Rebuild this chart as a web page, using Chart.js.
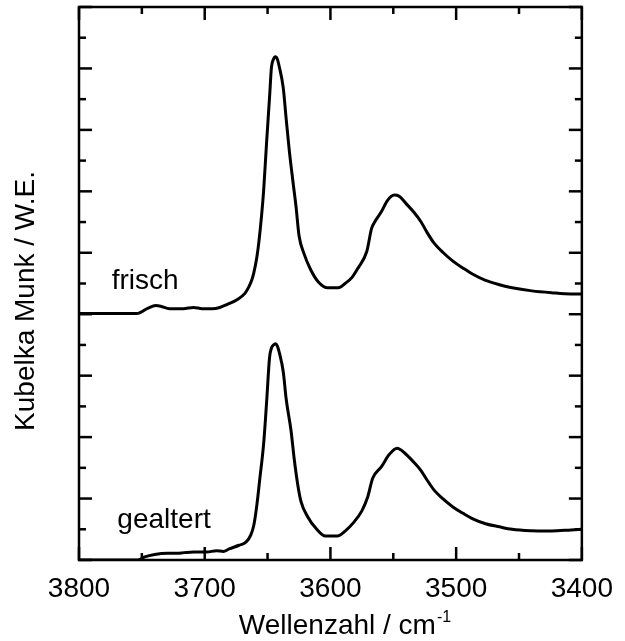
<!DOCTYPE html>
<html>
<head>
<meta charset="utf-8">
<script src="https://cdn.jsdelivr.net/npm/chart.js@4.4.1/dist/chart.umd.min.js"></script>
<style>
  html, body { margin: 0; padding: 0; background: #fff; }
  canvas { display: block; }
</style>
</head>
<body>
<canvas id="chart" width="625" height="641"></canvas>
<script>
// Wavenumber ticks (cm^-1), axis runs from high to low
const xTickValues = [3800, 3700, 3600, 3500, 3400];

// Kubelka-Munk spectrum of the fresh sample (offset upward by 4 units)
const frischWavenumber = [3800, 3754, 3745, 3739, 3735, 3728, 3717, 3709, 3702, 3694, 3688, 3682, 3674, 3668, 3665, 3662.5, 3661, 3658.6, 3657, 3654.7, 3653.1, 3650.8, 3648.4, 3646.9, 3645.3, 3643.8, 3642.2, 3640.6, 3637.5, 3635.2, 3632.8, 3629.7, 3627.3, 3625, 3621.1, 3615.6, 3609.4, 3602.3, 3593.8, 3588.3, 3582.8, 3578.1, 3571.1, 3567.2, 3564.8, 3559.4, 3554.7, 3549.2, 3545.3, 3539.8, 3533.6, 3528.1, 3523.4, 3518, 3510.2, 3502.3, 3494.5, 3486.7, 3476.6, 3465.6, 3455.5, 3439.8, 3424.2, 3408.6, 3400];
const frischKM = [4.01, 4.01, 4.10, 4.14, 4.13, 4.09, 4.09, 4.11, 4.09, 4.09, 4.11, 4.16, 4.24, 4.34, 4.44, 4.56, 4.67, 4.92, 5.16, 5.62, 6.02, 6.79, 7.54, 8.02, 8.15, 8.19, 8.15, 8.02, 7.68, 7.18, 6.68, 6.14, 5.74, 5.28, 4.99, 4.72, 4.52, 4.43, 4.43, 4.50, 4.60, 4.75, 5.02, 5.40, 5.50, 5.67, 5.85, 5.94, 5.92, 5.80, 5.66, 5.51, 5.34, 5.17, 5.00, 4.86, 4.75, 4.65, 4.55, 4.48, 4.43, 4.38, 4.35, 4.33, 4.33];

// Kubelka-Munk spectrum of the aged sample
const gealtertWavenumber = [3800, 3753, 3747.7, 3739.8, 3729.7, 3721.9, 3716.4, 3708.6, 3698.4, 3690.6, 3685.2, 3680.5, 3672.7, 3667.2, 3663.3, 3660.9, 3658.6, 3656.3, 3653.1, 3650.8, 3648.4, 3646.9, 3645.3, 3643.8, 3642.2, 3640.6, 3637.5, 3635.2, 3631.3, 3628.9, 3625.8, 3623.4, 3618, 3611.7, 3603.9, 3594.5, 3588.3, 3582, 3575, 3570.3, 3566.4, 3559.4, 3553.1, 3546.9, 3541.4, 3533.6, 3528.1, 3523.4, 3518, 3510.2, 3502.3, 3494.5, 3486.7, 3476.6, 3465.6, 3455.5, 3439.8, 3430, 3424.2, 3408.6, 3400];
const gealtertKM = [0.00, 0.00, 0.05, 0.09, 0.11, 0.11, 0.12, 0.13, 0.13, 0.15, 0.14, 0.18, 0.24, 0.29, 0.41, 0.57, 0.88, 1.30, 1.90, 2.56, 3.30, 3.45, 3.50, 3.52, 3.48, 3.37, 3.06, 2.62, 2.10, 1.66, 1.20, 0.95, 0.70, 0.52, 0.39, 0.39, 0.47, 0.60, 0.80, 1.03, 1.33, 1.52, 1.72, 1.82, 1.75, 1.59, 1.46, 1.31, 1.15, 0.99, 0.86, 0.76, 0.67, 0.59, 0.54, 0.50, 0.475, 0.47, 0.472, 0.49, 0.50];

// Curve labels and where their text starts (wavenumber, baseline value)
const curveLabels = ['frisch', 'gealtert'];
const curveLabelAnchors = [[3774, 4.41], [3769.5, 0.52]];

const FONT = "'Liberation Sans', Arial, Helvetica, sans-serif";

function toPoints(xs, ys) {
  return xs.map((w, i) => ({ x: w, y: ys[i] }));
}

// Frame, inward major/minor ticks on all four sides, axis titles and curve labels
const frameAndText = {
  id: 'frameAndText',
  afterDraw(chart) {
    const { ctx, chartArea: a, scales: { x, y } } = chart;
    ctx.save();
    ctx.strokeStyle = '#000';
    ctx.lineWidth = 2.5;
    ctx.lineCap = 'butt';
    const seg = (x1, y1, x2, y2) => { ctx.beginPath(); ctx.moveTo(x1, y1); ctx.lineTo(x2, y2); ctx.stroke(); };

    // x ticks: majors at the labelled values, minors halfway between
    const xMajorStep = xTickValues[0] - xTickValues[1];
    for (let v = x.min; v <= x.max; v += xMajorStep / 2) {
      const px = x.getPixelForValue(v);
      const major = xTickValues.includes(v);
      const len = major ? 13 : 7;
      seg(px, a.bottom, px, a.bottom - len);
      seg(px, a.top, px, a.top + len);
    }
    // y ticks: majors every unit, minors every half unit
    for (let k = 0; k <= (y.max - y.min) * 2; k++) {
      const v = y.min + k / 2;
      const py = y.getPixelForValue(v);
      const len = k % 2 === 0 ? 13 : 7;
      seg(a.left, py, a.left + len, py);
      seg(a.right, py, a.right - len, py);
    }
    ctx.strokeRect(a.left, a.top, a.right - a.left, a.bottom - a.top);

    ctx.fillStyle = '#000';
    // curve labels
    ctx.font = '28px ' + FONT;
    ctx.textAlign = 'left';
    ctx.textBaseline = 'alphabetic';
    curveLabels.forEach((t, i) => {
      const [w, v] = curveLabelAnchors[i];
      ctx.fillText(t, x.getPixelForValue(w), y.getPixelForValue(v));
    });

    // x axis title with superscript unit exponent
    const main = 'Wellenzahl / cm';
    const sup = '-1';
    ctx.font = '28px ' + FONT;
    const mw = ctx.measureText(main).width;
    ctx.font = '16px ' + FONT;
    const sw = ctx.measureText(sup).width;
    const startX = 345 - (mw + sw + 1) / 2;
    ctx.font = '28px ' + FONT;
    ctx.fillText(main, startX, 634);
    ctx.font = '16px ' + FONT;
    ctx.fillText(sup, startX + mw + 1, 622);

    // y axis title
    ctx.font = '28px ' + FONT;
    ctx.translate(34, 301);
    ctx.rotate(-Math.PI / 2);
    ctx.textAlign = 'center';
    ctx.fillText('Kubelka Munk / W.E.', 0, 0);
    ctx.restore();
  }
};

const lineStyle = {
  borderColor: '#000',
  borderWidth: 3,
  pointRadius: 0,
  fill: false,
  cubicInterpolationMode: 'monotone',
  borderJoinStyle: 'round',
  borderCapStyle: 'round'
};

new Chart(document.getElementById('chart'), {
  type: 'line',
  data: {
    datasets: [
      Object.assign({ label: curveLabels[0], data: toPoints(frischWavenumber, frischKM) }, lineStyle),
      Object.assign({ label: curveLabels[1], data: toPoints(gealtertWavenumber, gealtertKM) }, lineStyle)
    ]
  },
  options: {
    responsive: false,
    animation: false,
    devicePixelRatio: 1,
    layout: { padding: { left: 0, right: 34, top: 7, bottom: 0 } },
    plugins: { legend: { display: false }, tooltip: { enabled: false } },
    scales: {
      x: {
        type: 'linear',
        reverse: true,
        min: 3400,
        max: 3800,
        grid: { display: false, drawTicks: false },
        border: { display: false },
        afterBuildTicks: (scale) => { scale.ticks = xTickValues.map(v => ({ value: v })); },
        afterFit: (scale) => { scale.height = 81; },
        ticks: {
          autoSkip: false,
          maxRotation: 0,
          padding: 12,
          color: '#000',
          font: { family: FONT, size: 28 },
          callback: (v) => String(v)
        }
      },
      y: {
        type: 'linear',
        min: 0,
        max: 9,
        grid: { display: false, drawTicks: false },
        border: { display: false },
        ticks: { display: false },
        afterFit: (scale) => { scale.width = 79; }
      }
    }
  },
  plugins: [frameAndText]
});
</script>
</body>
</html>
